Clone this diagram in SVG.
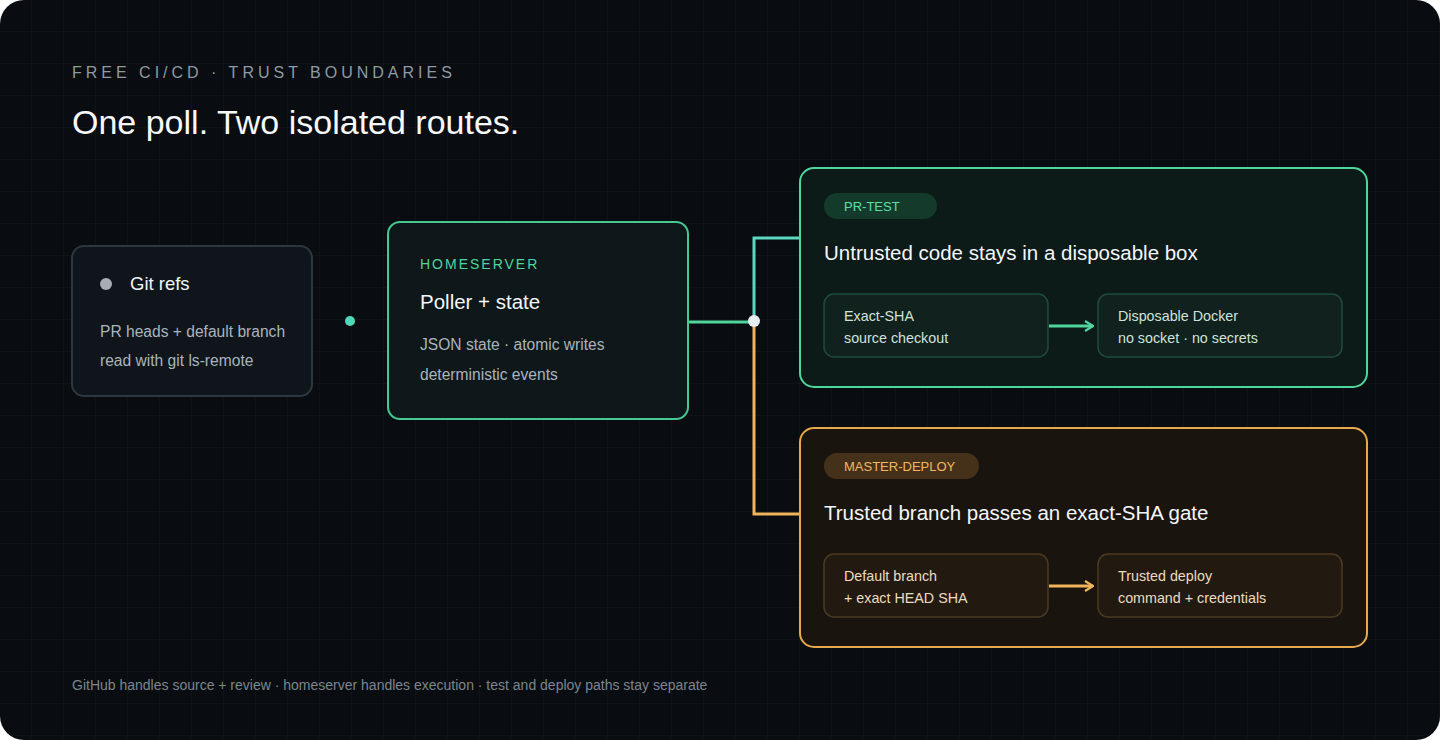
<svg xmlns="http://www.w3.org/2000/svg" width="1440" height="740" viewBox="0 0 1440 740">
<defs>
<pattern id="grid" width="32" height="32" patternUnits="userSpaceOnUse">
<path d="M32 0V32M0 32H32" fill="none" stroke="#141a20" stroke-width="1"/>
</pattern>
<marker id="ag" viewBox="0 0 10 12" refX="9" refY="6" markerWidth="10" markerHeight="12" markerUnits="userSpaceOnUse" orient="auto"><path d="M1 1L9 6L1 11" fill="none" stroke="#4fd69c" stroke-width="2.2"/></marker>
<marker id="ao" viewBox="0 0 10 12" refX="9" refY="6" markerWidth="10" markerHeight="12" markerUnits="userSpaceOnUse" orient="auto"><path d="M1 1L9 6L1 11" fill="none" stroke="#f0b45a" stroke-width="2.2"/></marker>
</defs>
<style>
text{font-family:"Liberation Sans",Arial,sans-serif}
.h{fill:#f4f6f8;font-size:20.5px}
.s{fill:#aab4bc;font-size:15.6px}
.gi{fill:#cfe3dc;font-size:14.3px}
.oi{fill:#ecdcc0;font-size:14.3px}
</style>
<rect width="1440" height="740" fill="#ffffff"/>
<rect width="1440" height="740" rx="24" fill="#090c10"/>
<rect width="1440" height="740" rx="24" fill="url(#grid)"/>
<text x="72" y="78" font-size="16" fill="#8f9aa3" letter-spacing="4">FREE CI/CD · TRUST BOUNDARIES</text>
<text x="72" y="134" font-size="34" fill="#f7f8f9">One poll. Two isolated routes.</text>

<g id="gitrefs">
<rect x="72" y="246" width="240" height="150" rx="12" fill="#0f151b" stroke="#2d3740" stroke-width="2"/>
<circle cx="106" cy="284" r="6" fill="#a7adb3"/>
<text x="130" y="290" font-size="18.5" fill="#f2f4f6">Git refs</text>
<text x="100" y="337" class="s">PR heads + default branch</text>
<text x="100" y="366" class="s">read with git ls-remote</text>
</g>

<g id="homeserver">
<rect x="388" y="222" width="300" height="197" rx="12" fill="#0e1719" stroke="#45c98f" stroke-width="2"/>
<text x="420" y="269" font-size="14" fill="#4fd69c" letter-spacing="2">HOMESERVER</text>
<text x="420" y="309" class="h">Poller + state</text>
<text x="420" y="350" class="s">JSON state · atomic writes</text>
<text x="420" y="380" class="s">deterministic events</text>
</g>

<g id="prtest">
<rect x="800" y="168" width="567" height="219" rx="14" fill="#0c1a18" stroke="#4fd69c" stroke-width="2"/>
<rect x="824" y="193" width="113" height="26" rx="13" fill="#143a2c"/>
<text x="844" y="211" font-size="13" fill="#5de0a6">PR-TEST</text>
<text x="824" y="260" class="h">Untrusted code stays in a disposable box</text>
</g>
<g id="exactsha">
<rect x="824" y="294" width="224" height="63" rx="10" fill="#10211e" stroke="#1f4a3c" stroke-width="1.5"/>
<text x="844" y="321" class="gi">Exact-SHA</text>
<text x="844" y="343" class="gi">source checkout</text>
</g>
<g id="docker">
<rect x="1098" y="294" width="244" height="63" rx="10" fill="#10211e" stroke="#1f4a3c" stroke-width="1.5"/>
<text x="1118" y="321" class="gi">Disposable Docker</text>
<text x="1118" y="343" class="gi">no socket · no secrets</text>
</g>

<g id="masterdeploy">
<rect x="800" y="428" width="567" height="219" rx="14" fill="#19140e" stroke="#e8a94e" stroke-width="2"/>
<rect x="824" y="453" width="155" height="26" rx="13" fill="#45311a"/>
<text x="844" y="471" font-size="13" fill="#f0b860">MASTER-DEPLOY</text>
<text x="824" y="520" class="h">Trusted branch passes an exact-SHA gate</text>
</g>
<g id="defaultbranch">
<rect x="824" y="554" width="224" height="63" rx="10" fill="#221a11" stroke="#4a3a22" stroke-width="1.5"/>
<text x="844" y="581" class="oi">Default branch</text>
<text x="844" y="603" class="oi">+ exact HEAD SHA</text>
</g>
<g id="deploy">
<rect x="1098" y="554" width="244" height="63" rx="10" fill="#221a11" stroke="#4a3a22" stroke-width="1.5"/>
<text x="1118" y="581" class="oi">Trusted deploy</text>
<text x="1118" y="603" class="oi">command + credentials</text>
</g>

<g id="connectors" fill="none" stroke-width="3">
<path d="M754 322V238H799" stroke="#5ad8c0"/>
<path d="M754 322V514H799" stroke="#f0b45a"/>
<path d="M689 322H754" stroke="#4fd69c"/>
<circle cx="754" cy="321" r="6" fill="#e9ecef" stroke="none"/>
<circle cx="350" cy="321" r="5" fill="#4fd8b8" stroke="none"/>
<path d="M1049 326H1093" stroke="#4fd69c" marker-end="url(#ag)"/>
<path d="M1049 586H1093" stroke="#f0b45a" marker-end="url(#ao)"/>
</g>

<text x="72" y="690" font-size="14" fill="#7c868f">GitHub handles source + review · homeserver handles execution · test and deploy paths stay separate</text>
</svg>
